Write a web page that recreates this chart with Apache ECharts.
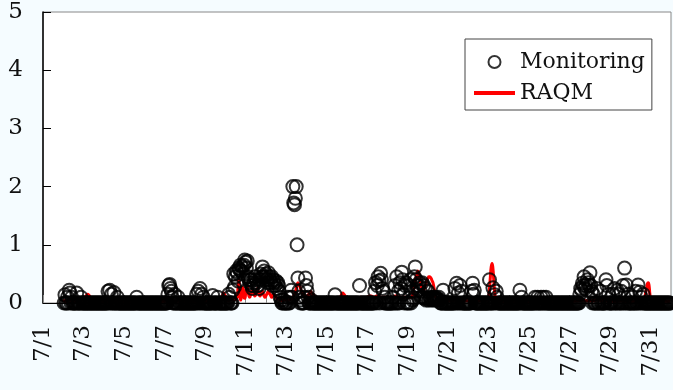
<!DOCTYPE html>
<html>
<head>
<meta charset="utf-8">
<script src="https://cdn.jsdelivr.net/npm/echarts/dist/echarts.min.js"></script>
<style>
  html, body { margin: 0; padding: 0; background: #f5fcff; }
  #chart { width: 673px; height: 390px; }
</style>
</head>
<body>
<div id="chart"></div>
<script>
// x 轴: 7/1 起的天数, 每 2 天一个标签
const dayLabels = ['7/1', '7/3', '7/5', '7/7', '7/9', '7/11', '7/13', '7/15',
  '7/17', '7/19', '7/21', '7/23', '7/25', '7/27', '7/29', '7/31']
const yTicks = [0, 1, 2, 3, 4, 5]

// Monitoring: 每天 24 个小时值 (第 0 行 = 7/1)
const monitoring = [
  [],
  [null,0,0.14,0,0,0.1,0,0.22,0.17,0,0.1,0,0,0,0,0,0.17,0,0,0,0,0.1,0,0],
  [0,0,0,0,0,0,0,0,0,0,0,0,0,0,0,0,0,0,0,0,0,0,0,0],
  [0,0,0,0,0,0.2,0,0.22,0,0.15,0,0,0.18,0,0,0,0.1,0,0,0,0,0,0,0],
  [0,0,0,0,0,0,0,0,0,0,0,0,0,0,0,0.1,0,0,0,0,0,0,0,0],
  [0,0,0,0,0,0,0,0,0,0,0,0,0,0,0,0,0,0,0,0,0,0,0,0],
  [0,0,0,0,0.15,0.3,0.32,0.25,0.2,0.1,0,0,0.15,0,0,0,0.1,0,0,0,0,0,0,0],
  [0,0,0,0,0,0,0,0,0,0,0,0,0,0,0.15,0,0.2,0,0.25,0,0.15,0,0.1,0],
  [0,0,0,0,0,0,0,0,0,0.13,0,0,0,0,0,0.1,0,0,0,0,0,0,0,0],
  [0,0,0,0,0.15,0.1,0,0,0,0.22,0.5,0.28,0.45,0.55,0.52,0.38,0.6,0.57,0.65,0.55,0.62,0.5,0.65,0.74],
  [0.7,0.6,0.72,0.45,0.4,0.35,0.4,0.3,0.25,0.3,0.35,0.45,0.4,0.35,0.3,0.3,0.25,0.4,0.5,0.45,0.62,0.45,0.55,0.45],
  [0.5,0.4,0.35,0.52,0.45,0.4,0.35,0.45,0.3,0.4,0.35,0.3,0.38,0.25,0.35,0.3,0.2,0.1,0.05,0,0,0.05,0,0],
  [0,0,0.1,0,0,0.1,0.22,0.1,2.0,1.72,1.69,1.8,2.0,1.0,0.43,0.2,0.1,0,0.05,0,0,0,0.1,0.43],
  [0.3,0.2,0.1,0,0,0,0.05,0,0,0,0,0,0,0,0,0,0,0,0,0,0,0,0,0],
  [0,0,0,0,0,0,0,0,0,0,0.14,0,0,0,0,0,0,0,0,0,0,0,0,0],
  [0,0,0,0,0,0,0,0,0,0,0,0,0,0,0,0.3,0,0,0,0,0,0,0,0],
  [0,0,0,0,0,0,0,0,0,0.2,0.35,0,0.3,0.45,0.38,0,0.51,0.4,0.25,0.2,0,0.1,0,0],
  [0,0,0,0,0,0,0,0.1,0,0.3,0,0.45,0,0.2,0,0.35,0.25,0.53,0.4,0.15,0,0.3,0.35,0],
  [0,0.3,0,0.4,0,0.2,0.05,0.08,0.45,0.62,0.4,0.3,0.22,0.3,0.35,0.2,0.1,0.35,0.1,0.3,0.08,0.25,0.05,0.08],
  [0.2,0.05,0.08,0.1,0.06,0.05,0.1,0.08,0.05,0.1,0.06,0.08,0.05,0.1,0.05,0,0,0,0.22,0,0,0,0,0],
  [0,0,0,0,0,0,0,0,0.25,0,0.34,0,0.17,0,0.3,0,0.2,0,0,0,0,0,0,0],
  [0,0,0,0,0.2,0.34,0.15,0.22,0,0,0,0,0,0,0,0,0,0,0,0,0,0,0,0],
  [0,0.4,0,0,0,0.26,0,0.14,0,0.2,0.1,0,0,0,0,0,0,0,0,0,0,0,0,0],
  [0,0,0,0,0,0,0,0,0,0,0,0,0,0.22,0,0.1,0,0,0,0,0,0,0,0],
  [0,0,0,0,0,0,0,0.1,0,0,0.1,0,0,0,0.1,0,0,0.1,0,0,0.1,0,0,0],
  [0,0,0,0,0,0,0,0,0,0,0,0,0,0,0,0,0,0,0,0,0,0,0,0],
  [0,0,0,0,0,0,0,0,0,0,0,0,0.15,0.25,0.22,0.34,0.3,0.45,0.25,0.3,0.22,0.4,0.35,0.3],
  [0.52,0.3,0.2,0,0.15,0,0,0,0.25,0,0,0,0.2,0,0,0,0,0,0,0.4,0.3,0,0.15,0],
  [0,0,0,0.15,0,0.25,0,0,0.22,0,0.15,0,0,0.2,0,0.3,0,0.6,0,0.31,0,0.15,0,0],
  [0,0,0.1,0,0,0,0.2,0,0,0.31,0,0.19,0,0.1,0,0.15,0,0,0,0,0,0,0,0],
  [0,0,0,0,0,0,0,0,0,0,0,0,0,0,0,0,0,0,0,0,0,0,0,0],
]

// RAQM 模式值, 同样每天 24 个
const raqm = [
  [],
  [0.05,0.04,0.03,0.03,0.02,0.02,0.03,0.04,0.05,0.04,0.03,0.03,0.02,0.02,0.03,0.03,0.02,0.02,0.02,0.03,0.04,0.05,0.06,0.06],
  [0.07,0.08,0.1,0.12,0.14,0.15,0.14,0.12,0.09,0.06,0.04,0.03,0.02,0.02,0.02,0.02,0.02,0.02,0.02,0.03,0.03,0.03,0.03,0.03],
  [0.03,0.03,0.02,0.02,0.02,0.02,0.03,0.04,0.04,0.03,0.03,0.02,0.02,0.02,0.02,0.02,0.02,0.03,0.03,0.03,0.02,0.02,0.02,0.02],
  [0.02,0.02,0.02,0.02,0.02,0.03,0.03,0.03,0.03,0.02,0.02,0.02,0.02,0.02,0.02,0.02,0.02,0.02,0.02,0.02,0.02,0.02,0.02,0.02],
  [0.02,0.02,0.02,0.02,0.03,0.03,0.04,0.04,0.03,0.03,0.02,0.02,0.02,0.02,0.02,0.02,0.03,0.03,0.03,0.03,0.03,0.03,0.03,0.03],
  [0.03,0.04,0.04,0.05,0.05,0.06,0.06,0.05,0.05,0.04,0.04,0.03,0.03,0.03,0.03,0.03,0.04,0.05,0.05,0.05,0.04,0.04,0.03,0.03],
  [0.03,0.03,0.03,0.03,0.04,0.04,0.04,0.04,0.03,0.03,0.03,0.03,0.03,0.03,0.04,0.04,0.05,0.05,0.04,0.04,0.03,0.03,0.03,0.03],
  [0.03,0.03,0.03,0.03,0.03,0.04,0.04,0.05,0.05,0.04,0.04,0.04,0.04,0.05,0.05,0.06,0.06,0.07,0.08,0.09,0.1,0.14,0.17,0.15],
  [0.12,0.08,0.05,0.04,0.04,0.05,0.06,0.06,0.05,0.05,0.06,0.06,0.07,0.08,0.1,0.25,0.4,0.2,0.05,0.1,0.27,0.25,0.1,0.08],
  [0.15,0.25,0.3,0.2,0.12,0.1,0.15,0.2,0.22,0.18,0.15,0.12,0.15,0.2,0.25,0.2,0.15,0.12,0.15,0.18,0.2,0.15,0.12,0.1],
  [0.12,0.15,0.18,0.2,0.18,0.15,0.12,0.1,0.12,0.15,0.14,0.12,0.1,0.08,0.08,0.07,0.06,0.05,0.05,0.04,0.04,0.05,0.05,0.06],
  [0.06,0.05,0.05,0.05,0.05,0.06,0.07,0.08,0.1,0.12,0.15,0.2,0.25,0.3,0.35,0.33,0.3,0.25,0.2,0.17,0.15,0.12,0.1,0.1],
  [0.1,0.12,0.14,0.15,0.18,0.2,0.18,0.15,0.15,0.12,0.1,0.1,0.1,0.08,0.07,0.06,0.05,0.05,0.05,0.04,0.04,0.04,0.04,0.04],
  [0.04,0.04,0.04,0.04,0.04,0.05,0.05,0.05,0.05,0.05,0.05,0.05,0.05,0.06,0.06,0.07,0.08,0.12,0.15,0.17,0.16,0.14,0.12,0.1],
  [0.08,0.07,0.06,0.05,0.05,0.05,0.05,0.06,0.07,0.08,0.08,0.08,0.07,0.07,0.08,0.09,0.1,0.1,0.09,0.08,0.08,0.08,0.09,0.1],
  [0.1,0.1,0.11,0.12,0.12,0.12,0.11,0.1,0.1,0.1,0.11,0.12,0.12,0.12,0.11,0.1,0.1,0.1,0.1,0.1,0.1,0.1,0.1,0.1],
  [0.1,0.1,0.1,0.09,0.09,0.09,0.1,0.1,0.11,0.12,0.12,0.12,0.11,0.1,0.1,0.1,0.1,0.1,0.1,0.1,0.1,0.1,0.1,0.1],
  [0.1,0.1,0.1,0.1,0.1,0.1,0.15,0.22,0.3,0.38,0.45,0.5,0.55,0.52,0.45,0.38,0.3,0.25,0.2,0.22,0.25,0.3,0.35,0.4],
  [0.42,0.45,0.45,0.44,0.42,0.38,0.35,0.28,0.2,0.13,0.08,0.05,0.04,0.04,0.04,0.04,0.04,0.04,0.04,0.04,0.04,0.04,0.04,0.04],
  [0.04,0.04,0.04,0.04,0.04,0.04,0.05,0.05,0.05,0.05,0.04,0.04,0.04,0.04,0.04,0.04,0.04,0.04,0.04,0.04,0.04,0.04,0.04,0.04],
  [0.04,0.04,0.04,0.04,0.04,0.05,0.05,0.05,0.04,0.04,0.04,0.04,0.04,0.04,0.04,0.04,0.04,0.04,0.04,0.04,0.04,0.04,0.05,0.06],
  [0.1,0.25,0.45,0.62,0.68,0.6,0.4,0.2,0.08,0.04,0.03,0.03,0.03,0.03,0.03,0.03,0.03,0.03,0.03,0.03,0.03,0.03,0.03,0.03],
  [0.03,0.03,0.03,0.03,0.02,0.02,0.02,0.03,0.03,0.03,0.03,0.03,0.02,0.02,0.02,0.02,0.02,0.03,0.03,0.03,0.03,0.03,0.03,0.03],
  [0.03,0.03,0.03,0.02,0.02,0.02,0.02,0.02,0.03,0.03,0.03,0.03,0.03,0.03,0.02,0.02,0.02,0.02,0.02,0.02,0.02,0.02,0.02,0.02],
  [0.02,0.02,0.02,0.02,0.02,0.02,0.03,0.03,0.03,0.03,0.03,0.02,0.02,0.02,0.02,0.02,0.02,0.02,0.03,0.03,0.03,0.03,0.03,0.03],
  [0.03,0.03,0.03,0.03,0.03,0.03,0.04,0.04,0.04,0.04,0.04,0.04,0.04,0.05,0.05,0.05,0.05,0.05,0.04,0.04,0.04,0.04,0.04,0.04],
  [0.04,0.04,0.04,0.04,0.04,0.04,0.05,0.05,0.05,0.05,0.05,0.05,0.05,0.04,0.04,0.04,0.04,0.04,0.04,0.04,0.04,0.04,0.04,0.04],
  [0.04,0.04,0.04,0.03,0.03,0.03,0.03,0.03,0.04,0.04,0.04,0.04,0.04,0.04,0.04,0.04,0.04,0.04,0.03,0.03,0.03,0.03,0.03,0.03],
  [0.03,0.03,0.03,0.03,0.03,0.03,0.03,0.04,0.04,0.04,0.04,0.04,0.04,0.04,0.04,0.05,0.06,0.1,0.18,0.25,0.33,0.35,0.3,0.15],
  [0.05,0.03,0.03,0.03,0.03,0.03,0.03,0.03,0.03,0.03,0.03,0.03,0.03,0.03,0.03,0.03,0.03,0.03,0.03,0.03,0.03,0.03,0.03,0.03],
]

// 把 [天][小时] 转成 [天数偏移, 值]
function toPoints(rows) {
  let pts = []
  rows.forEach((row, d) => {
    row.forEach((v, h) => {
      if (v !== null) pts.push([d + h / 24, v])
    })
  })
  return pts
}

const axisFont = 'DejaVu Serif'
let chart = echarts.init(document.getElementById('chart'))

let option = {
  backgroundColor: '#f5fcff',
  animation: false,
  grid: {
    left: 43,
    right: 2,
    top: 12,
    bottom: 87,
    show: true,
    backgroundColor: '#fff',
    borderColor: '#888',
    borderWidth: 1,
  },
  legend: {
    orient: 'vertical',
    left: 465,
    top: 39,
    padding: [12, 7, 6, 7],
    itemGap: 9,
    itemWidth: 41,
    itemHeight: 12,
    backgroundColor: '#fff',
    borderColor: '#444',
    borderWidth: 1,
    borderRadius: 0,
    textStyle: {
      fontFamily: axisFont,
      fontSize: 22,
      color: '#111',
    },
    data: [
      { name: 'Monitoring', icon: 'circle', itemStyle: { color: 'transparent', borderColor: '#000', borderWidth: 2 } },
      // 图例只画红线, 不画点
      { name: 'RAQM', itemStyle: { opacity: 0 }, lineStyle: { color: '#ff0000', width: 4 } },
    ],
  },
  xAxis: {
    type: 'value',
    min: 0,
    max: 31,
    interval: 1,
    splitLine: { show: false },
    axisLine: { lineStyle: { color: '#000', width: 1 } },
    axisTick: { inside: true, length: 8, lineStyle: { color: '#888' } },
    axisLabel: {
      rotate: 90,
      margin: 22,
      fontFamily: axisFont,
      fontSize: 23,
      color: '#111',
      showMaxLabel: false,
      formatter: v => (v % 2 === 0 && v / 2 < dayLabels.length) ? dayLabels[v / 2] : '',
    },
  },
  yAxis: {
    type: 'value',
    min: yTicks[0],
    max: yTicks[yTicks.length - 1],
    interval: 1,
    splitLine: { show: false },
    axisLine: { show: true, lineStyle: { color: '#000', width: 1.5 } },
    axisTick: { inside: true, length: 8, lineStyle: { color: '#000' } },
    axisLabel: {
      margin: 20,
      fontFamily: axisFont,
      fontSize: 23,
      color: '#111',
    },
  },
  series: [
    {
      name: 'Monitoring',
      type: 'scatter',
      z: 3,
      symbol: 'circle',
      symbolSize: 13,
      itemStyle: { color: 'transparent', borderColor: '#000', borderWidth: 2 },
      data: toPoints(monitoring),
    },
    {
      name: 'RAQM',
      type: 'line',
      z: 2,
      smooth: true,
      symbol: 'none',
      lineStyle: { color: '#ff0000', width: 3 },
      itemStyle: { color: '#ff0000' },
      data: toPoints(raqm),
    },
  ],
}

chart.setOption(option)
</script>
</body>
</html>
